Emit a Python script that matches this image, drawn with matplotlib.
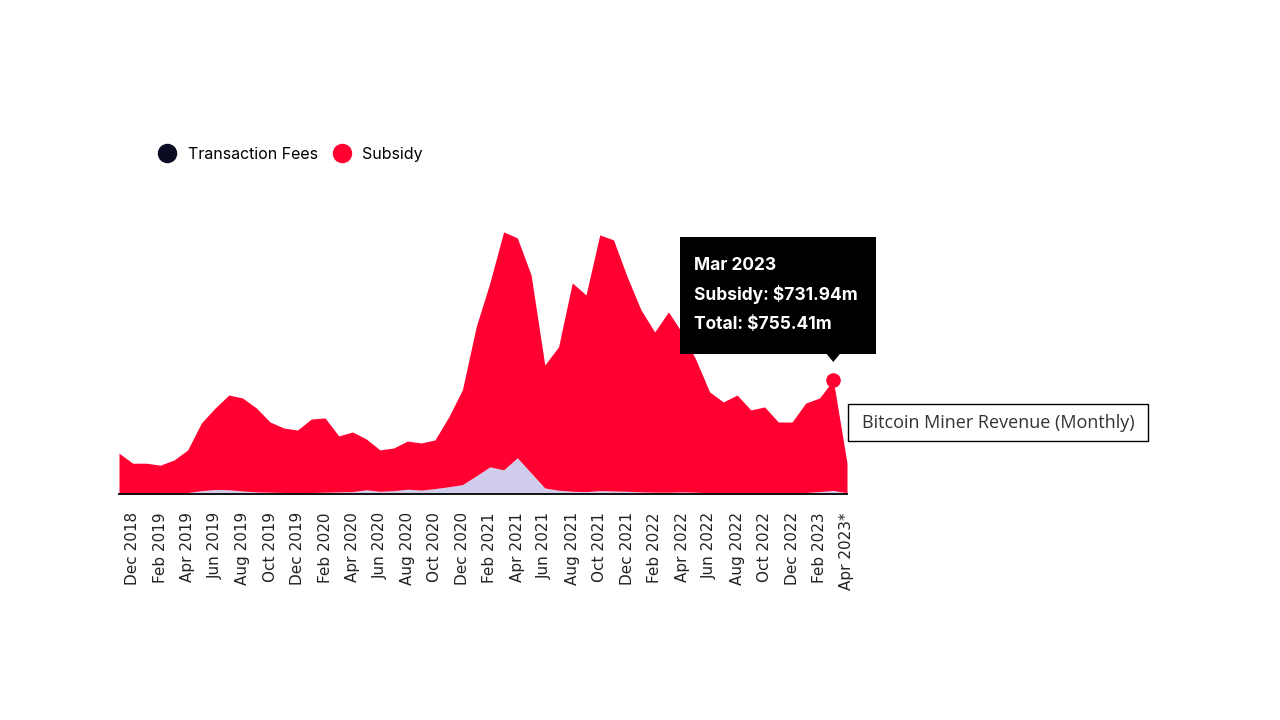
import matplotlib
matplotlib.use("Agg")
import matplotlib.pyplot as plt
import numpy as np
from matplotlib.lines import Line2D
from matplotlib.patches import Polygon, Rectangle

# Monthly miner revenue, Nov 2018 .. Apr 2023 (USD millions)
months = [
    "Nov 2018", "Dec 2018",
    "Jan 2019", "Feb 2019", "Mar 2019", "Apr 2019", "May 2019", "Jun 2019",
    "Jul 2019", "Aug 2019", "Sep 2019", "Oct 2019", "Nov 2019", "Dec 2019",
    "Jan 2020", "Feb 2020", "Mar 2020", "Apr 2020", "May 2020", "Jun 2020",
    "Jul 2020", "Aug 2020", "Sep 2020", "Oct 2020", "Nov 2020", "Dec 2020",
    "Jan 2021", "Feb 2021", "Mar 2021", "Apr 2021", "May 2021", "Jun 2021",
    "Jul 2021", "Aug 2021", "Sep 2021", "Oct 2021", "Nov 2021", "Dec 2021",
    "Jan 2022", "Feb 2022", "Mar 2022", "Apr 2022", "May 2022", "Jun 2022",
    "Jul 2022", "Aug 2022", "Sep 2022", "Oct 2022", "Nov 2022", "Dec 2022",
    "Jan 2023", "Feb 2023", "Mar 2023", "Apr 2023*",
]
subsidy = [
    268, 201,
    201, 187, 219, 282, 449, 540, 628, 616, 556, 465, 427, 416,
    487, 492, 371, 395, 337, 274, 283, 319, 312, 322, 462, 628,
    987, 1219, 1577, 1457, 1312, 815, 950, 1381, 1303, 1695, 1664, 1421,
    1206, 1062, 1195, 1054, 878, 668, 603, 648, 549, 569, 468, 469,
    593, 620, 731.94, 197,
]
fees = [
    3, 3,
    3, 4, 6, 10, 22, 30, 28, 20, 14, 12, 10, 8,
    10, 12, 14, 16, 28, 18, 22, 32, 26, 36, 48, 62,
    120, 180, 160, 240, 140, 40, 25, 18, 16, 22, 20, 18,
    14, 12, 12, 14, 12, 8, 7, 8, 8, 8, 9, 8,
    10, 16, 23.47, 8,
]
tooltip_month = "Mar 2023"

RED = "#FF0030"
LAVENDER = "#CFCDEB"
NAVY = "#0B0B24"

x = np.arange(len(months))
fees_arr = np.array(fees)
total = fees_arr + np.array(subsidy)

fig = plt.figure(figsize=(12.8, 7.2), dpi=100)
ax = fig.add_axes([119 / 1280, 226 / 720, 728 / 1280, 274 / 720])

ax.fill_between(x, 0, fees_arr, color=LAVENDER, lw=0)
ax.fill_between(x, fees_arr, total, color=RED, lw=0)

ax.set_xlim(0, len(months) - 1)
ax.set_ylim(0, 274 * 755.41 / 114)

for side in ["top", "right", "left"]:
    ax.spines[side].set_visible(False)
ax.spines["bottom"].set_color("#111111")
ax.spines["bottom"].set_linewidth(1.4)
ax.set_yticks([])
ax.set_xticks(x[1::2])
ax.set_xticklabels(months[1::2], rotation=90, fontsize=11, color="#222222")
ax.tick_params(axis="x", length=0, pad=13)

# legend
handles = [
    Line2D([], [], marker="o", ls="none", ms=13, color=NAVY, label="Transaction Fees"),
    Line2D([], [], marker="o", ls="none", ms=13, color=RED, label="Subsidy"),
]
fig.legend(handles=handles, loc="center left", bbox_to_anchor=(0.118, 0.786),
           ncol=2, frameon=False, borderpad=0, handlelength=1.0,
           handletextpad=0.8, columnspacing=1.0,
           prop={"family": "Inter", "size": 11.5})

# tooltip on the hovered month
i = months.index(tooltip_month)
ax.scatter([i], [total[i]], s=110, color=RED, zorder=5, lw=0)
fig.canvas.draw()
px, py = ax.transData.transform((i, total[i]))
box = Rectangle((px - 153, py + 26), 196, 117, transform=None,
                facecolor="black", edgecolor="none", zorder=6)
fig.patches.append(box)
tri = Polygon([(px - 7, py + 26.5), (px + 7, py + 26.5), (px, py + 18)],
              closed=True, transform=None, facecolor="black", edgecolor="none", zorder=6)
fig.patches.append(tri)
lines = [
    tooltip_month,
    f"Subsidy: ${subsidy[i]:.2f}m",
    f"Total: ${total[i]:.2f}m",
]
for k, line in enumerate(lines):
    fig.text((px - 139) / 1280, (py + 115 - k * 30) / 720, line, color="white",
             fontsize=12.5, fontweight="bold", family="Inter", va="center", ha="left",
             zorder=7)

# title box
fig.patches.append(Rectangle((848 / 1280, 1 - 441 / 720), 300 / 1280, 37 / 720,
                             transform=fig.transFigure, facecolor="white",
                             edgecolor="black", lw=1))
fig.text(998 / 1280, 1 - 422.5 / 720, "Bitcoin Miner Revenue (Monthly)",
         ha="center", va="center", fontsize=13, color="#333333", family="Open Sans")

fig.savefig("out.png", dpi=100)
